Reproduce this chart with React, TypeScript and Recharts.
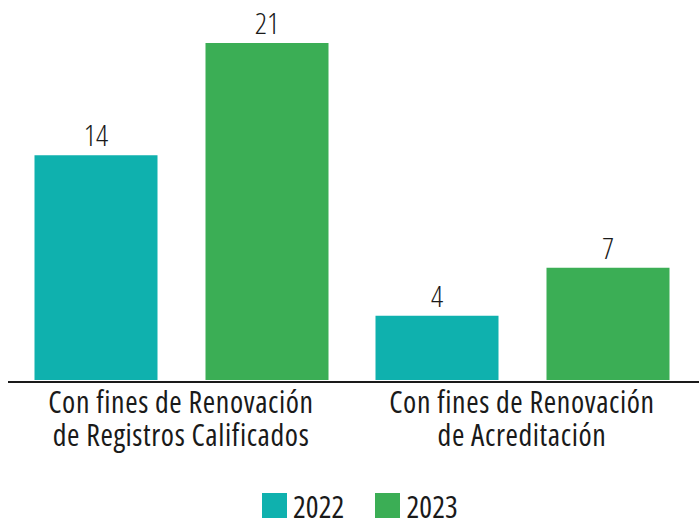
import React from "react";
import { BarChart, Bar, XAxis, YAxis, LabelList } from "recharts";

const categories = [
  ["Con fines de Renovación", "de Registros Calificados"],
  ["Con fines de Renovación", "de Acreditación"],
];
const values2022 = [14, 4];
const values2023 = [21, 7];
const seriesNames = ["2022", "2023"];
const colors = ["#0fb1ae", "#3bae55"];

const data = categories.map((lines, i) => ({
  name: lines.join("\n"),
  y2022: values2022[i],
  y2023: values2023[i],
}));

const FONT = "'Open Sans', sans-serif";

const CategoryTick = ({ x, y, payload }: any) => {
  const lines = String(payload.value).split("\n");
  return (
    <g>
      {lines.map((line, i) => (
        <text
          key={i}
          x={x}
          y={y + 28.5 + i * 33}
          textAnchor="middle"
          fill="#1a1a1a"
          fontFamily={FONT}
          fontSize={30}
          letterSpacing={0.6}
          style={{ fontStretch: "condensed" }}
        >
          {line}
        </text>
      ))}
    </g>
  );
};

export default function App() {
  return (
    <div style={{ position: "absolute", left: 0, top: 0, width: 699, height: 521 }}>
      <BarChart
        width={699}
        height={521}
        data={data}
        margin={{ top: 43, right: 0, left: 8, bottom: 49 }}
        barSize={123}
        barGap={48}
      >
        <XAxis
          dataKey="name"
          padding={{ left: 2.5, right: 6.5 }}
          height={90}
          tickLine={false}
          tickSize={0}
          axisLine={{ stroke: "#1a1a1a", strokeWidth: 2 }}
          tick={<CategoryTick />}
          interval={0}
        />
        <YAxis hide domain={[-0.125, 21]} allowDataOverflow />
        {["y2022", "y2023"].map((key, i) => (
          <Bar key={key} dataKey={key} fill={colors[i]} isAnimationActive={false}>
            <LabelList
              dataKey={key}
              position="top"
              offset={9}
              fill="#1a1a1a"
              fontFamily={FONT}
              fontSize={30}
              fontWeight={300}
              style={{ fontStretch: "condensed" }}
            />
          </Bar>
        ))}
      </BarChart>
      {/* legend kept outside the chart so it doesn't push the plot area */}
      <div
        style={{
          position: "absolute",
          top: 493,
          left: 262,
          fontFamily: FONT,
          fontSize: 30,
          fontStretch: "condensed",
          letterSpacing: 0.1,
          color: "#1a1a1a",
          lineHeight: "28px",
          whiteSpace: "nowrap",
        }}
      >
        {seriesNames.map((name, i) => (
          <span key={name} style={{ marginRight: i === 0 ? 31 : 0 }}>
            <span
              style={{
                display: "inline-block",
                width: 25,
                height: 25,
                background: colors[i],
                marginRight: 6,
              }}
            />
            {name}
          </span>
        ))}
      </div>
    </div>
  );
}
